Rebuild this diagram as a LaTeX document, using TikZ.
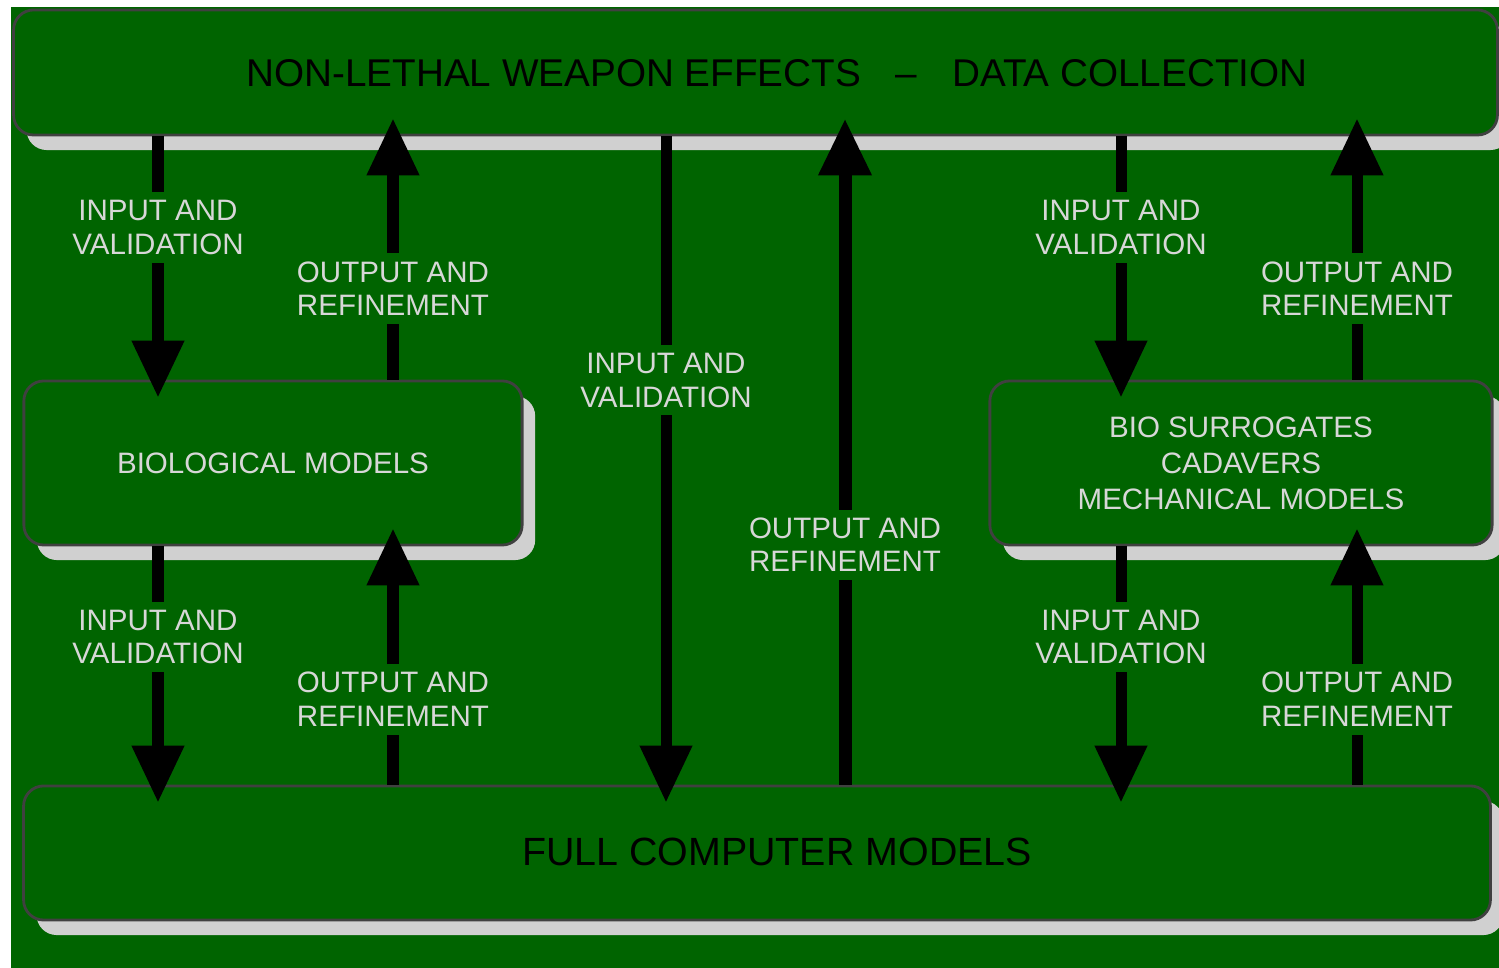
\documentclass[tikz,border=0pt]{standalone}
\usepackage{fontspec}
\setmainfont{Liberation Sans}
\usetikzlibrary{
    arrows.meta,
    positioning,
    shadows,
    calc
}
\definecolor{panel}{RGB}{0,100,0}
\definecolor{shade}{RGB}{208,208,208}
\definecolor{caption}{RGB}{215,215,215}

\begin{document}
\begin{tikzpicture}[
    x=0.01cm, y=-0.01cm,
    box/.style={
        draw=black!75,
        line width=0.8pt,
        fill=panel,
        rounded corners=0.2cm,
        inner sep=0pt,
        text=caption,
        align=center,
        font=\fontsize{8.4}{10.2}\selectfont,
        drop shadow={shadow xshift=0.13cm, shadow yshift=-0.15cm, fill=shade, opacity=1}
    },
    lbl/.style={
        fill=panel,
        text=caption,
        align=center,
        inner xsep=1pt,
        inner ysep=0.08cm,
        font=\fontsize{8.4}{9.6}\selectfont
    },
    heading/.style={text=black, inner sep=0pt},
    flow/.style={line width=0.11cm, -{Triangle[width=0.5cm,length=0.57cm]}, shorten >=-0.18cm}
]

\useasboundingbox[fill=white] (0,0) rectangle (1499,968);
\fill[panel] (11,7) rectangle (1499,968);

% boxes
\node[box, minimum width=14.83cm, minimum height=1.25cm] (top) at (755.5,72.5) {};
\node[box, minimum width=4.98cm, minimum height=1.64cm] (bio) at (273,463) {BIOLOGICAL MODELS};
\node[box, minimum width=5.02cm, minimum height=1.64cm] (surr) at (1241,463)
    {BIO SURROGATES\\CADAVERS\\MECHANICAL MODELS};
\node[box, minimum width=14.66cm, minimum height=1.34cm] (full) at (757,853) {};

\node[heading, font=\fontsize{11}{13}\selectfont] (toptext) at (777,73)
    {NON-LETHAL WEAPON EFFECTS\hspace{0.9em}–\hspace{0.9em}DATA COLLECTION};
\node[heading, font=\fontsize{11.2}{13}\selectfont] (fulltext) at (777,852)
    {FULL COMPUTER MODELS};

% columns
\coordinate (c1) at (158,0);
\coordinate (c2) at (393,0);
\coordinate (c3) at (666,0);
\coordinate (c4) at (845,0);
\coordinate (c5) at (1121,0);
\coordinate (c6) at (1357,0);

% upper level
\draw[flow] (top.south -| c1) -- node[lbl, pos=0.374] {INPUT AND\\VALIDATION} (bio.north -| c1);
\draw[flow] (bio.north -| c2) -- node[lbl, pos=0.374] {OUTPUT AND\\REFINEMENT} (top.south -| c2);
\draw[flow] (top.south -| c5) -- node[lbl, pos=0.374] {INPUT AND\\VALIDATION} (surr.north -| c5);
\draw[flow] (surr.north -| c6) -- node[lbl, pos=0.374] {OUTPUT AND\\REFINEMENT} (top.south -| c6);

% straight through
\draw[flow] (top.south -| c3) -- node[lbl, pos=0.376] {INPUT AND\\VALIDATION} (full.north -| c3);
\draw[flow, line width=0.13cm] (full.north -| c4) -- node[lbl, pos=0.37] {OUTPUT AND\\REFINEMENT} (top.south -| c4);

% lower level
\draw[flow] (bio.south -| c1) -- node[lbl, pos=0.38] {INPUT AND\\VALIDATION} (full.north -| c1);
\draw[flow] (full.north -| c2) -- node[lbl, pos=0.357] {OUTPUT AND\\REFINEMENT} (bio.south -| c2);
\draw[flow] (surr.south -| c5) -- node[lbl, pos=0.38] {INPUT AND\\VALIDATION} (full.north -| c5);
\draw[flow] (full.north -| c6) -- node[lbl, pos=0.357] {OUTPUT AND\\REFINEMENT} (surr.south -| c6);

\end{tikzpicture}
\end{document}
